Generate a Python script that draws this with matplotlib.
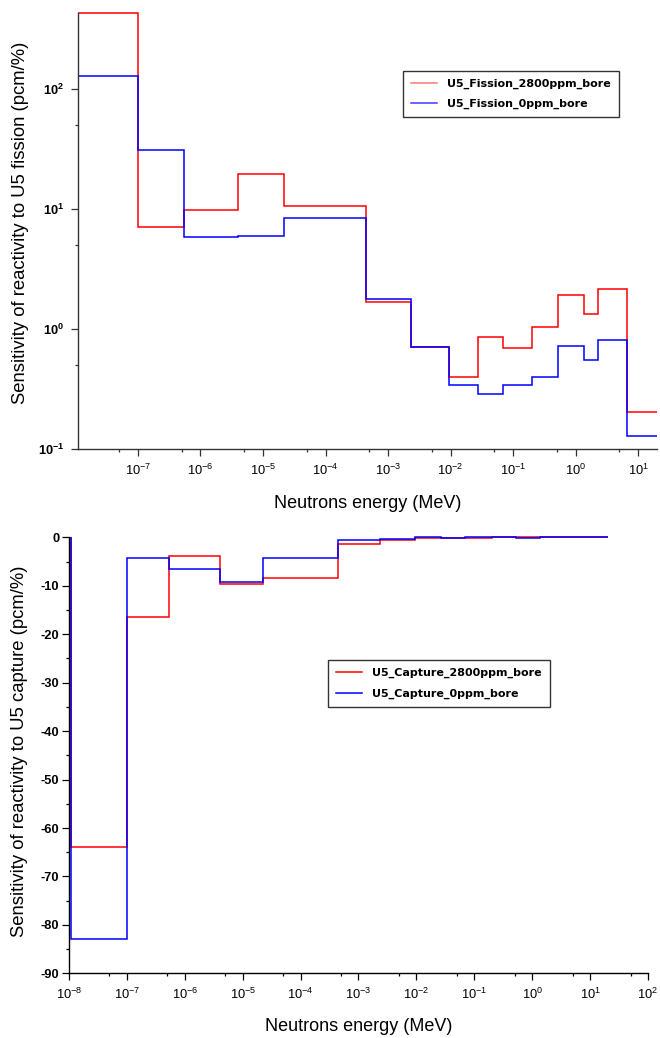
import numpy as np
import matplotlib
matplotlib.use("Agg")
import matplotlib.pyplot as plt
from matplotlib.ticker import LogLocator, NullFormatter, MultipleLocator

# energy group boundaries (MeV), 15 groups
energy_edges = [1.1e-8, 1.0e-7, 5.4e-7, 4.0e-6, 2.2e-5, 4.4e-4, 2.35e-3,
                9.4e-3, 2.7e-2, 7.0e-2, 0.2, 0.52, 1.38, 2.3, 6.5, 20.0]

# sensitivity to U5 fission (pcm/%)
fission_2800ppm = [432, 7.1, 9.8, 19.8, 10.7, 1.67, 0.71, 0.395,
                   0.86, 0.69, 1.04, 1.93, 1.33, 2.16, 0.204]
fission_0ppm = [128, 31.1, 5.9, 6.0, 8.4, 1.77, 0.71, 0.341,
                0.287, 0.341, 0.398, 0.72, 0.555, 0.81, 0.129]

# sensitivity to U5 capture (pcm/%)
capture_2800ppm = [-64.0, -16.4, -3.9, -9.6, -8.4, -1.45, -0.55, -0.15,
                   -0.2, -0.15, 0.0, 0.1, 0.0, 0.0, 0.0]
capture_0ppm = [-83.0, -4.25, -6.6, -9.15, -4.25, -0.55, -0.3, 0.1,
                -0.2, 0.1, 0.0, -0.2, 0.0, 0.0, 0.0]

plt.rcParams["font.family"] = ["Liberation Sans", "DejaVu Sans"]
plt.rcParams["mathtext.fontset"] = "custom"
plt.rcParams["mathtext.rm"] = "Liberation Sans:bold"
plt.rcParams["mathtext.it"] = "Liberation Sans:bold:italic"
plt.rcParams["mathtext.bf"] = "Liberation Sans:bold"
plt.rcParams["axes.unicode_minus"] = False

RED = "#ff0000"
BLUE = "#0000ff"
LW = 1.1
LEG_FONT = {"family": "DejaVu Sans", "size": 8, "weight": "bold"}


def style_axes(ax, color):
    for s in ("top", "right"):
        ax.spines[s].set_visible(False)
    for s in ("left", "bottom"):
        ax.spines[s].set_color(color)
        ax.spines[s].set_linewidth(1.0)
    ax.tick_params(which="both", direction="out", color=color,
                   labelsize=9.3, labelcolor="black", width=0.9)
    ax.tick_params(which="major", length=5)
    ax.tick_params(which="minor", length=2.5)
    ax.tick_params(axis="x", which="major", pad=5)
    for lab in ax.get_yticklabels():
        lab.set_fontweight("bold")
    ax.set_facecolor("white")


def legend_box(ax, anchor, light=False):
    leg = ax.legend(loc="upper left", bbox_to_anchor=anchor,
                    borderaxespad=0, frameon=True, fancybox=False,
                    prop=LEG_FONT, handlelength=2.4, handletextpad=0.9,
                    labelspacing=0.95, borderpad=0.7)
    fr = leg.get_frame()
    fr.set_facecolor("white")
    fr.set_edgecolor("black")
    fr.set_linewidth(1.0)
    if light:
        # the reference draws the legend samples a bit paler
        leg.get_lines()[0].set_color("#ff7a7a")
        leg.get_lines()[1].set_color("#3c3cff")
    return leg


fig = plt.figure(figsize=(6.6, 10.38), dpi=100)

# ---- fission (log-log)
ax1 = fig.add_axes([0.1182, 0.5674, 0.8773, 0.4200])
ax1.set_xscale("log")
ax1.set_yscale("log")
ax1.stairs(fission_2800ppm, energy_edges, baseline=None, color=RED,
           linewidth=LW, label="U5_Fission_2800ppm_bore", clip_on=False)
ax1.stairs(fission_0ppm, energy_edges, baseline=None, color=BLUE,
           linewidth=LW, label="U5_Fission_0ppm_bore", clip_on=False)
ax1.set_xlim(energy_edges[0], energy_edges[-1])
ax1.set_ylim(0.1, max(fission_2800ppm))
ax1.xaxis.set_major_locator(LogLocator(base=10, numticks=20))
ax1.xaxis.set_minor_locator(LogLocator(base=10, subs=[5], numticks=20))
ax1.xaxis.set_minor_formatter(NullFormatter())
ax1.yaxis.set_major_locator(LogLocator(base=10, numticks=20))
ax1.yaxis.set_minor_locator(LogLocator(base=10, subs=[5], numticks=20))
ax1.yaxis.set_minor_formatter(NullFormatter())
style_axes(ax1, "#333333")
ax1.tick_params(axis="y", which="major", pad=5)
ax1.set_xlabel("Neutrons energy (MeV)", fontsize=13, va="center")
ax1.xaxis.set_label_coords(0.5, -0.124)
ax1.set_ylabel("Sensitivity of reactivity to U5 fission (pcm/%)",
               fontsize=13.3, va="center")
ax1.yaxis.set_label_coords(-0.100, 0.52)
legend_box(ax1, (0.561, 0.868), light=True)

# ---- capture (log-lin)
ax2 = fig.add_axes([0.1045, 0.0623, 0.8773, 0.4200])
ax2.set_xscale("log")
ax2.stairs(capture_2800ppm, energy_edges, baseline=0, color=RED,
           linewidth=LW, label="U5_Capture_2800ppm_bore", clip_on=False)
ax2.stairs(capture_0ppm, energy_edges, baseline=0, color=BLUE,
           linewidth=LW, label="U5_Capture_0ppm_bore", clip_on=False)
ax2.set_xlim(1e-8, 1e2)
ax2.set_ylim(-90, 0)
ax2.xaxis.set_major_locator(LogLocator(base=10, numticks=20))
ax2.xaxis.set_minor_locator(LogLocator(base=10, subs=[5], numticks=20))
ax2.xaxis.set_minor_formatter(NullFormatter())
ax2.yaxis.set_major_locator(MultipleLocator(10))
ax2.yaxis.set_minor_locator(MultipleLocator(5))
style_axes(ax2, "black")
ax2.tick_params(axis="y", which="major", pad=2)
ax2.set_xlabel("Neutrons energy (MeV)", fontsize=13, va="center")
ax2.xaxis.set_label_coords(0.5, -0.123)
ax2.set_ylabel("Sensitivity of reactivity to U5 capture (pcm/%)",
               fontsize=13.3, va="center")
ax2.yaxis.set_label_coords(-0.0846, 0.51)
legend_box(ax2, (0.447, 0.7186))

fig.savefig("out.png", dpi=100, facecolor="white")
